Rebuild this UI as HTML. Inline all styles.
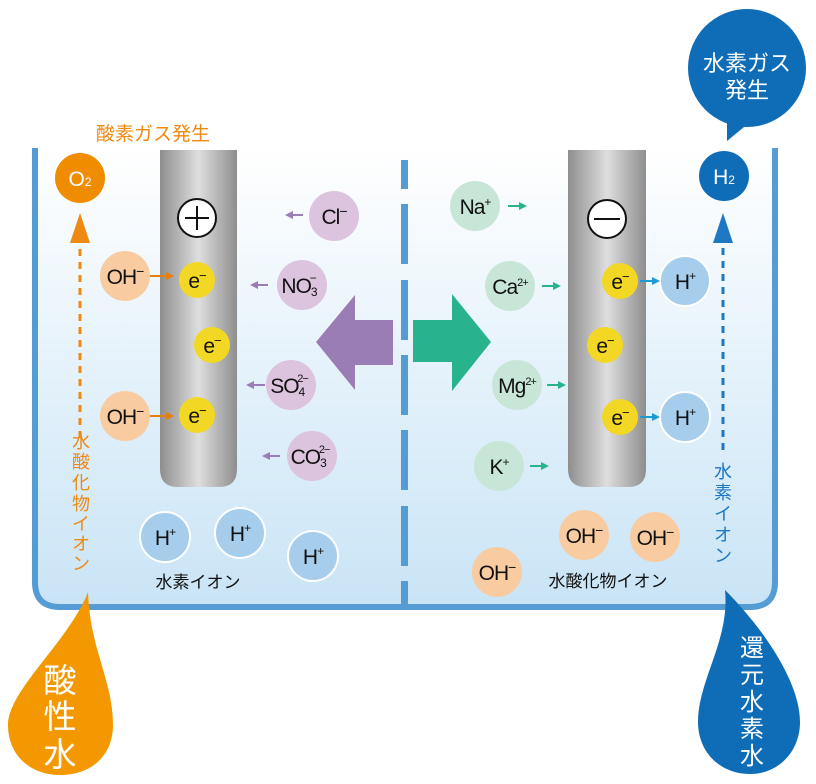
<!DOCTYPE html>
<html><head><meta charset="utf-8"><style>
html,body{margin:0;padding:0;background:#fff}
svg{display:block}
text{font-family:"Liberation Sans","Noto Sans CJK JP",sans-serif}
.ion{font-size:21px;fill:#111;text-anchor:middle;letter-spacing:-1px}
.sup{font-size:11px}
</style></head><body>
<svg width="816" height="784" viewBox="0 0 816 784" xmlns="http://www.w3.org/2000/svg">
<defs>
<linearGradient id="water" x1="0" y1="0" x2="0" y2="1">
<stop offset="0" stop-color="#ffffff"/><stop offset="1" stop-color="#c9e4f6"/>
</linearGradient>
<linearGradient id="rod" x1="0" y1="0" x2="1" y2="0">
<stop offset="0" stop-color="#8e8e8e"/><stop offset="0.5" stop-color="#dedede"/><stop offset="1" stop-color="#8e8e8e"/>
</linearGradient>
<marker id="ao" markerWidth="8" markerHeight="8" refX="6" refY="4" orient="auto" markerUnits="userSpaceOnUse"><path d="M0,0 L8,4 L0,8 Z" fill="#e67e10"/></marker>
<marker id="ap" markerWidth="8" markerHeight="8" refX="6" refY="4" orient="auto" markerUnits="userSpaceOnUse"><path d="M0,0 L8,4 L0,8 Z" fill="#9b7db5"/></marker>
<marker id="ag" markerWidth="8" markerHeight="8" refX="6" refY="4" orient="auto" markerUnits="userSpaceOnUse"><path d="M0,0 L8,4 L0,8 Z" fill="#28b38c"/></marker>
<marker id="ab" markerWidth="8" markerHeight="8" refX="6" refY="4" orient="auto" markerUnits="userSpaceOnUse"><path d="M0,0 L8,4 L0,8 Z" fill="#1e9ad6"/></marker>
</defs>
<!-- water container -->
<path d="M35,148 L35,582 Q35,607 60,607 L750,607 Q775,607 775,582 L775,148 Z" fill="url(#water)"/>
<path d="M35,148 L35,582 Q35,607 60,607 L750,607 Q775,607 775,582 L775,148" fill="none" stroke="#559bd4" stroke-width="6"/>
<!-- divider -->
<g fill="#559bd4">
<rect x="401" y="160" width="7" height="29"/><rect x="401" y="204" width="7" height="60"/>
<rect x="401" y="280" width="7" height="60"/><rect x="401" y="355" width="7" height="60"/>
<rect x="401" y="430" width="7" height="60"/><rect x="401" y="506" width="7" height="60"/>
<rect x="401" y="581" width="7" height="26"/>
</g>
<!-- electrodes -->
<path d="M160,150 L237,150 L237,469 Q237,487 219,487 L178,487 Q160,487 160,469 Z" fill="url(#rod)"/>
<path d="M568,150 L646,150 L646,469 Q646,487 628,487 L586,487 Q568,487 568,469 Z" fill="url(#rod)"/>
<circle cx="197" cy="218" r="19" fill="#fff" stroke="#111" stroke-width="2"/>
<path d="M185,218 H209 M197,206 V230" stroke="#111" stroke-width="2"/>
<circle cx="607" cy="219" r="19" fill="#fff" stroke="#111" stroke-width="2"/>
<path d="M594,219 H620" stroke="#111" stroke-width="2"/>
<!-- big arrows -->
<path d="M316,342 L355,295 L355,320 L393,320 L393,365 L355,365 L355,390 Z" fill="#9b7db5"/>
<path d="M491,342 L452,294 L452,320 L413,320 L413,362 L452,362 L452,391 Z" fill="#28b38c"/>
<!-- left side -->
<text x="153" y="140" font-size="19" fill="#ee8a12" text-anchor="middle">酸素ガス発生</text>
<circle cx="80" cy="178" r="25" fill="#f08c00"/>
<text x="80" y="186" font-size="21" fill="#fff" text-anchor="middle">O<tspan font-size="12">2</tspan></text>
<line x1="80" y1="438" x2="80" y2="240" stroke="#ee8a12" stroke-width="3" stroke-dasharray="7,6"/>
<path d="M70,243 L80,213 L90,243 Z" fill="#ee8a12"/>
<g font-size="18" fill="#ee8a12" text-anchor="middle">
<text x="81" y="448">水</text><text x="81" y="468">酸</text><text x="81" y="489">化</text><text x="81" y="510">物</text><text x="81" y="530">イ</text><text x="81" y="550">オ</text><text x="81" y="570">ン</text>
</g>
<g fill="#f8cca0"><circle cx="125" cy="276" r="25"/><circle cx="125" cy="416" r="25"/></g>
<text class="ion" x="125" y="284">OH<tspan dy="-8" font-size="14">−</tspan></text>
<text class="ion" x="125" y="424">OH<tspan dy="-8" font-size="14">−</tspan></text>
<line x1="150" y1="276" x2="172" y2="276" stroke="#e67e10" stroke-width="2" marker-end="url(#ao)"/>
<line x1="150" y1="416" x2="172" y2="416" stroke="#e67e10" stroke-width="2" marker-end="url(#ao)"/>
<g fill="#f2d824"><circle cx="197" cy="280" r="18"/><circle cx="212" cy="345" r="18"/><circle cx="197" cy="415" r="18"/>
<circle cx="620" cy="281" r="18"/><circle cx="605" cy="345" r="18"/><circle cx="620" cy="417" r="18"/></g>
<g class="ion" font-size="20">
<text class="ion" x="197" y="288">e<tspan dy="-8" font-size="13">−</tspan></text>
<text class="ion" x="212" y="353">e<tspan dy="-8" font-size="13">−</tspan></text>
<text class="ion" x="197" y="423">e<tspan dy="-8" font-size="13">−</tspan></text>
<text class="ion" x="620" y="289">e<tspan dy="-8" font-size="13">−</tspan></text>
<text class="ion" x="605" y="353">e<tspan dy="-8" font-size="13">−</tspan></text>
<text class="ion" x="620" y="425">e<tspan dy="-8" font-size="13">−</tspan></text>
</g>
<g fill="#dcc3de"><circle cx="334" cy="216" r="25"/><circle cx="302" cy="285" r="25"/><circle cx="291" cy="385" r="25"/><circle cx="312" cy="456" r="25"/></g>
<text class="ion" x="334" y="224">Cl<tspan dy="-8" font-size="14">−</tspan></text>
<text class="ion" x="299" y="293">NO<tspan font-size="12" dy="3">3</tspan><tspan font-size="12" dx="-7" dy="-14">−</tspan></text>
<text class="ion" x="289" y="393">SO<tspan font-size="12" dy="3">4</tspan><tspan font-size="11" dx="-7" dy="-14">2−</tspan></text>
<text class="ion" x="310" y="464">CO<tspan font-size="12" dy="3">3</tspan><tspan font-size="11" dx="-7" dy="-14">2−</tspan></text>
<g stroke="#9b7db5" stroke-width="2" marker-end="url(#ap)">
<line x1="303" y1="215" x2="287" y2="215"/><line x1="268" y1="285" x2="252" y2="285"/>
<line x1="265" y1="385" x2="248" y2="385"/><line x1="280" y1="456" x2="264" y2="456"/>
</g>
<g fill="#a6cdec" stroke="#fff" stroke-width="2">
<circle cx="165" cy="537" r="25"/><circle cx="240" cy="533" r="25"/><circle cx="313" cy="556" r="25"/>
<circle cx="685" cy="281" r="25"/><circle cx="685" cy="417" r="25"/>
</g>
<text class="ion" x="165" y="545">H<tspan dy="-9" font-size="12">+</tspan></text>
<text class="ion" x="240" y="541">H<tspan dy="-9" font-size="12">+</tspan></text>
<text class="ion" x="313" y="564">H<tspan dy="-9" font-size="12">+</tspan></text>
<text class="ion" x="685" y="289">H<tspan dy="-9" font-size="12">+</tspan></text>
<text class="ion" x="685" y="425">H<tspan dy="-9" font-size="12">+</tspan></text>
<text x="198" y="588" font-size="17" fill="#111" text-anchor="middle">水素イオン</text>
<!-- right side -->
<g fill="#c8e6d7"><circle cx="475" cy="206" r="25"/><circle cx="510" cy="286" r="25"/><circle cx="517" cy="385" r="25"/><circle cx="499" cy="466" r="25"/></g>
<text class="ion" x="475" y="214">Na<tspan dy="-8" font-size="12">+</tspan></text>
<text class="ion" x="510" y="294">Ca<tspan dy="-8" font-size="11">2+</tspan></text>
<text class="ion" x="517" y="393">Mg<tspan dy="-8" font-size="11">2+</tspan></text>
<text class="ion" x="499" y="474">K<tspan dy="-8" font-size="12">+</tspan></text>
<g stroke="#28b38c" stroke-width="2" marker-end="url(#ag)">
<line x1="508" y1="206" x2="525" y2="206"/><line x1="542" y1="286" x2="559" y2="286"/>
<line x1="547" y1="385" x2="564" y2="385"/><line x1="530" y1="466" x2="547" y2="466"/>
</g>
<g stroke="#1e9ad6" stroke-width="2" marker-end="url(#ab)">
<line x1="640" y1="281" x2="658" y2="281"/><line x1="640" y1="417" x2="658" y2="417"/>
</g>
<g fill="#f8cca0"><circle cx="584" cy="535" r="25"/><circle cx="655" cy="537" r="25"/><circle cx="497" cy="572" r="25"/></g>
<text class="ion" x="584" y="543">OH<tspan dy="-8" font-size="14">−</tspan></text>
<text class="ion" x="655" y="545">OH<tspan dy="-8" font-size="14">−</tspan></text>
<text class="ion" x="497" y="580">OH<tspan dy="-8" font-size="14">−</tspan></text>
<text x="608" y="587" font-size="17" fill="#111" text-anchor="middle">水酸化物イオン</text>
<circle cx="724" cy="176" r="25" fill="#0f6db8"/>
<text x="724" y="184" font-size="21" fill="#fff" text-anchor="middle">H<tspan font-size="12">2</tspan></text>
<line x1="723" y1="450" x2="723" y2="240" stroke="#1f78c4" stroke-width="3" stroke-dasharray="7,6"/>
<path d="M713,243 L723,213 L733,243 Z" fill="#1f78c4"/>
<g font-size="18" fill="#1f78c4" text-anchor="middle">
<text x="723" y="478">水</text><text x="723" y="499">素</text><text x="723" y="520">イ</text><text x="723" y="541">オ</text><text x="723" y="562">ン</text>
</g>
<!-- bubble -->
<circle cx="747" cy="68" r="59" fill="#0f6db8"/>
<path d="M727,112 L727,141 L755,118 Z" fill="#0f6db8"/>
<text x="747" y="71" font-size="22" fill="#fff" text-anchor="middle">水素ガス</text>
<text x="747" y="98" font-size="22" fill="#fff" text-anchor="middle">発生</text>
<!-- drops -->
<path d="M88,592 C70,640 8,690 8,725 C8,755 30,775 60,775 C92,775 113,755 113,725 C113,680 90,650 88,592 Z" fill="#f39800"/>
<g font-size="33" fill="#fff" text-anchor="middle">
<text x="60" y="692">酸</text><text x="60" y="728">性</text><text x="60" y="766">水</text>
</g>
<path d="M725,590 C760,625 800,680 800,722 C800,752 778,774 750,774 C720,774 698,752 698,722 C698,680 730,640 725,590 Z" fill="#0f6db8"/>
<g font-size="24" fill="#fff" text-anchor="middle">
<text x="752" y="656">還</text><text x="752" y="683">元</text><text x="752" y="710">水</text><text x="752" y="737">素</text><text x="752" y="764">水</text>
</g>
</svg>
</body></html>
